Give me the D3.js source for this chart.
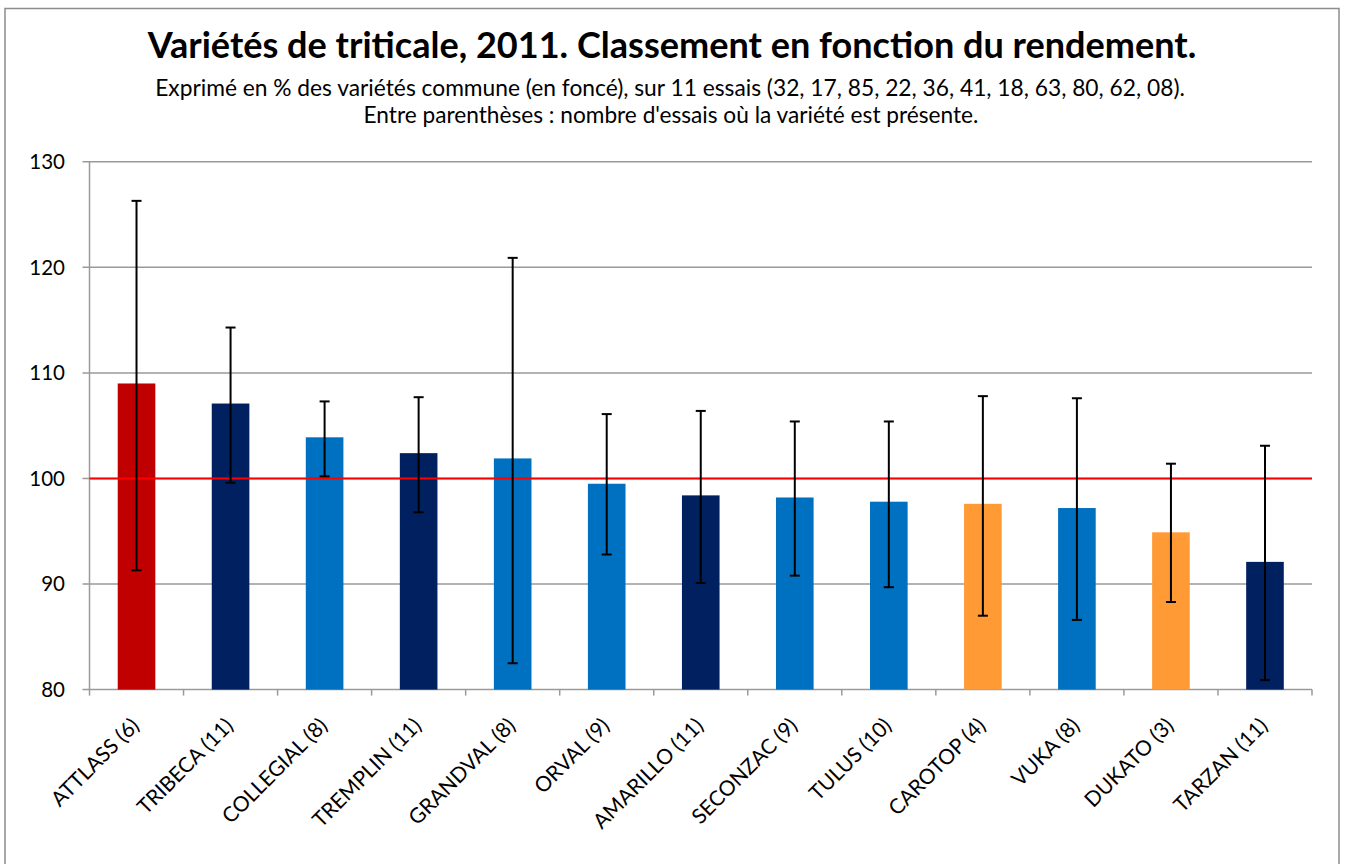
<!DOCTYPE html>
<html>
<head>
<meta charset="utf-8">
<script src="https://cdn.jsdelivr.net/npm/d3@7"></script>
<style>
  body { margin: 0; background: #fff; }
  svg { display: block; }
</style>
</head>
<body>
<svg id="chart" width="1346" height="864"></svg>
<script>
/** Varieties, in ranking order (number of trials in brackets) */
var varieties = ['ATTLASS (6)', 'TRIBECA (11)', 'COLLEGIAL (8)', 'TREMPLIN (11)', 'GRANDVAL (8)',
    'ORVAL (9)', 'AMARILLO (11)', 'SECONZAC (9)', 'TULUS (10)', 'CAROTOP (4)',
    'VUKA (8)', 'DUKATO (3)', 'TARZAN (11)'];

/** Yield in % of the common varieties */
var yields = [109.0, 107.1, 103.9, 102.4, 101.9, 99.5, 98.4, 98.2, 97.8, 97.6, 97.2, 94.9, 92.1];

/** Error bar ends (min / max) */
var errLow  = [91.3, 99.6, 100.2, 96.8, 82.5, 92.8, 90.1, 90.8, 89.7, 87.0, 86.6, 88.3, 80.9];
var errHigh = [126.3, 114.3, 107.3, 107.7, 120.9, 106.1, 106.4, 105.4, 105.4, 107.8, 107.6, 101.4, 103.1];

/** Colour group of each variety */
var groups = ['best', 'common', 'new', 'common', 'new', 'new', 'common', 'new', 'new',
    'other', 'new', 'other', 'common'];

var yTicks = [80, 90, 100, 110, 120, 130];
var refValue = 100;

var title = 'Variétés de triticale, 2011. Classement en fonction du rendement.';
var subtitle1 = 'Exprimé en % des variétés commune (en foncé), sur 11 essais (32, 17,  85, 22, 36, 41, 18, 63, 80, 62, 08).';
var subtitle2 = 'Entre parenthèses : nombre d\'essais où la variété est présente.';

/** Plot area */
var plotLeft = 89.5,
    plotRight = 1312,
    plotTop = 161.8,
    plotBottom = 689.6;

var fontFamily = 'Lato, "Open Sans", sans-serif';
var gridColor = '#9a9a9a';

var colorScale = d3.scaleOrdinal()
    .domain(['best', 'common', 'new', 'other'])
    .range(['#c00000', '#002060', '#0070c0', '#ff9a35']);

var svg = d3.select('#chart');

// outer chart frame
svg.append('rect')
    .attr('x', 5).attr('y', 8.5)
    .attr('width', 1334).attr('height', 900)
    .attr('fill', '#fff')
    .attr('stroke', '#8c8c8c')
    .attr('stroke-width', 1.5);

// category positions (ticks) and bars
var xCat = d3.scaleBand()
    .domain(varieties)
    .range([plotLeft, plotRight]);

var xBar = d3.scaleBand()
    .domain(varieties)
    .range([plotLeft, plotRight])
    .paddingInner(0.6)
    .paddingOuter(0.3);

var y = d3.scaleLinear()
    .domain([80, 130])
    .range([plotBottom, plotTop]);

// gridlines
svg.append('g')
    .selectAll('line')
    .data(yTicks)
    .enter()
    .append('line')
    .attr('x1', plotLeft - 7)
    .attr('x2', plotRight)
    .attr('y1', function (d) { return y(d); })
    .attr('y2', function (d) { return y(d); })
    .attr('stroke', gridColor)
    .attr('stroke-width', 1.5);

// y axis line
svg.append('line')
    .attr('x1', plotLeft).attr('x2', plotLeft)
    .attr('y1', plotTop).attr('y2', plotBottom)
    .attr('stroke', gridColor)
    .attr('stroke-width', 1.5);

// y tick labels
svg.append('g')
    .selectAll('text')
    .data(yTicks)
    .enter()
    .append('text')
    .attr('x', 65)
    .attr('y', function (d) { return y(d); })
    .attr('dy', '0.36em')
    .attr('text-anchor', 'end')
    .attr('font-family', fontFamily)
    .attr('font-size', 20.5)
    .attr('fill', '#000')
    .text(function (d) { return d; });

// x tick marks at category boundaries
var xTickPos = varieties.map(function (v) { return xCat(v); }).concat([plotRight]);
svg.append('g')
    .selectAll('line')
    .data(xTickPos)
    .enter()
    .append('line')
    .attr('x1', function (d) { return d; })
    .attr('x2', function (d) { return d; })
    .attr('y1', plotBottom)
    .attr('y2', plotBottom + 6)
    .attr('stroke', gridColor)
    .attr('stroke-width', 1.5);

// bars
svg.append('g')
    .selectAll('rect')
    .data(varieties)
    .enter()
    .append('rect')
    .attr('x', function (d) { return xBar(d); })
    .attr('width', xBar.bandwidth())
    .attr('y', function (d, i) { return y(yields[i]); })
    .attr('height', function (d, i) { return y(80) - y(yields[i]); })
    .attr('fill', function (d, i) { return colorScale(groups[i]); });

// reference line at 100
svg.append('line')
    .attr('x1', plotLeft).attr('x2', plotRight)
    .attr('y1', y(refValue)).attr('y2', y(refValue))
    .attr('stroke', '#ff0000')
    .attr('stroke-width', 2);

// error bars
var errG = svg.append('g')
    .attr('stroke', '#000')
    .attr('stroke-width', 2);

var capHalf = 5;
varieties.forEach(function (v, i) {
    var cx = xCat(v) + xCat.bandwidth() / 2;
    errG.append('line')
        .attr('x1', cx).attr('x2', cx)
        .attr('y1', y(errLow[i])).attr('y2', y(errHigh[i]));
    errG.append('line')
        .attr('x1', cx - capHalf).attr('x2', cx + capHalf)
        .attr('y1', y(errLow[i])).attr('y2', y(errLow[i]));
    errG.append('line')
        .attr('x1', cx - capHalf).attr('x2', cx + capHalf)
        .attr('y1', y(errHigh[i])).attr('y2', y(errHigh[i]));
});

// x labels, rotated
svg.append('g')
    .selectAll('text')
    .data(varieties)
    .enter()
    .append('text')
    .attr('transform', function (d) {
        var cx = xCat(d) + xCat.bandwidth() / 2;
        return 'translate(' + (cx + 4) + ',' + 727 + ') rotate(-45)';
    })
    .attr('text-anchor', 'end')
    .attr('font-family', fontFamily)
    .attr('font-size', 21)
    .attr('fill', '#000')
    .text(function (d) { return d; });

/** fit a text to a given width by changing its font size */
function fitText(sel, targetWidth) {
    var size = +sel.attr('font-size');
    var w = sel.node().getComputedTextLength();
    sel.attr('font-size', (size * targetWidth / w).toFixed(2));
}

var t = svg.append('text')
    .attr('x', 672).attr('y', 57.5)
    .attr('text-anchor', 'middle')
    .attr('font-family', fontFamily)
    .attr('font-weight', 'bold')
    .attr('font-size', 28)
    .text(title);
fitText(t, 1049);

var s1 = svg.append('text')
    .attr('x', 670).attr('y', 96)
    .attr('text-anchor', 'middle')
    .attr('font-family', fontFamily)
    .attr('font-size', 17)
    .text(subtitle1);
fitText(s1, 1030);

var s2 = svg.append('text')
    .attr('x', 671).attr('y', 123)
    .attr('text-anchor', 'middle')
    .attr('font-family', fontFamily)
    .attr('font-size', 17)
    .text(subtitle2);
fitText(s2, 615);
</script>
</body>
</html>
